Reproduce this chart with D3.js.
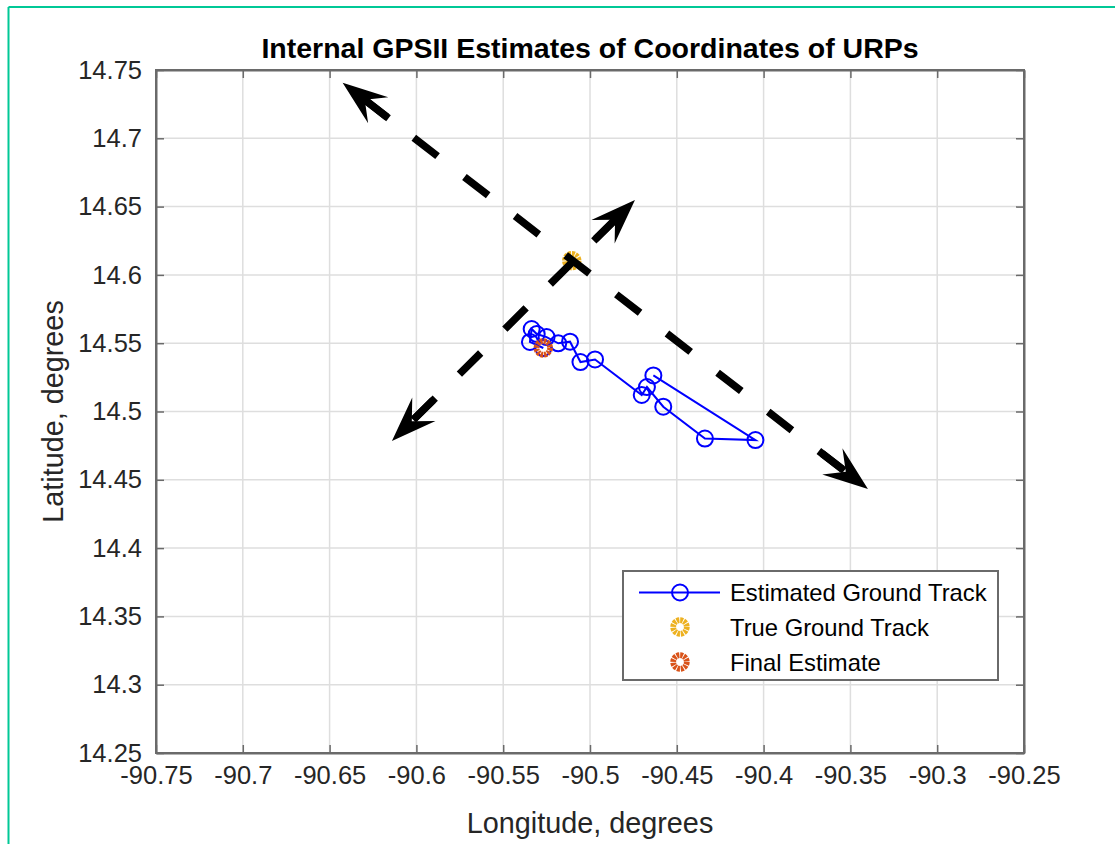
<!DOCTYPE html>
<html>
<head>
<meta charset="utf-8">
<script src="https://cdn.jsdelivr.net/npm/d3@7"></script>
<style>
  body { margin: 0; background: #fff; }
  svg { display: block; font-family: "Liberation Sans", Arial, sans-serif; }
</style>
</head>
<body>
<div id="chart"></div>
<script>
// estimated ground track (lon, lat), in plotting order
var trackLon = [-90.4635, -90.4047, -90.4338, -90.4578, -90.4672, -90.4702, -90.4971, -90.5055,
                -90.5115, -90.5183, -90.5250, -90.5307, -90.5336, -90.5346, -90.5269];
var trackLat = [14.5264, 14.4791, 14.4802, 14.5035, 14.5179, 14.5121, 14.5381, 14.5362,
                14.5511, 14.5499, 14.5545, 14.5567, 14.5604, 14.5509, 14.5465];

var trueLon = [-90.5105], trueLat = [14.6104];
var finalLon = [-90.5269], finalLat = [14.5465];

// double-headed dashed arrows: [lon1, lat1, lon2, lat2]
var arrowA = [-90.6425, 14.7407, -90.3399, 14.4433];
var arrowB = [-90.6141, 14.4784, -90.4741, 14.6548];

var xTicks = [-90.75, -90.7, -90.65, -90.6, -90.55, -90.5, -90.45, -90.4, -90.35, -90.3, -90.25];
var yTicks = [14.25, 14.3, 14.35, 14.4, 14.45, 14.5, 14.55, 14.6, 14.65, 14.7, 14.75];

var legendLabels = ["Estimated Ground Track", "True Ground Track", "Final Estimate"];

var W = 1115, H = 844;
var margin = { top: 70, right: 91, bottom: 91, left: 156 },
  width = W - margin.left - margin.right,
  height = H - margin.top - margin.bottom;

var svg = d3.select("#chart").append("svg")
  .attr("width", W)
  .attr("height", H);

// green frame (top and left edges)
svg.append("line").attr("x1", 8.5).attr("x2", W).attr("y1", 7).attr("y2", 7)
  .attr("stroke", "#00c896").attr("stroke-width", 2);
svg.append("line").attr("x1", 8.5).attr("x2", 8.5).attr("y1", 7).attr("y2", H)
  .attr("stroke", "#00c896").attr("stroke-width", 2);

var g = svg.append("g")
  .attr("transform", "translate(" + margin.left + "," + margin.top + ")");

var x = d3.scaleLinear().domain([-90.75, -90.25]).range([0, width]);
var y = d3.scaleLinear().domain([14.25, 14.75]).range([height, 0]);

// grid
g.append("g").selectAll("line").data(xTicks).join("line")
  .attr("x1", function(d) { return x(d); }).attr("x2", function(d) { return x(d); })
  .attr("y1", 0).attr("y2", height)
  .attr("stroke", "#dedede").attr("stroke-width", 1.5);
g.append("g").selectAll("line").data(yTicks).join("line")
  .attr("y1", function(d) { return y(d); }).attr("y2", function(d) { return y(d); })
  .attr("x1", 0).attr("x2", width)
  .attr("stroke", "#dedede").attr("stroke-width", 1.5);

// axes (ticks pointing inward, on all four sides)
var fmt = function(d) { return String(+d.toFixed(2)); };
var axStyle = function(sel) {
  sel.select(".domain").attr("stroke", "#6a6a6a").attr("stroke-width", 2);
  sel.selectAll(".tick line").attr("stroke", "#6a6a6a").attr("stroke-width", 1.5);
  sel.selectAll("text").attr("fill", "#262626").style("font-size", "25.5px")
    .attr("font-family", "Liberation Sans, Arial, sans-serif");
};
g.append("g").attr("transform", "translate(0," + height + ")")
  .call(d3.axisBottom(x).tickValues(xTicks).tickFormat(fmt).tickSizeInner(-8).tickSizeOuter(0).tickPadding(13))
  .call(axStyle);
g.append("g")
  .call(d3.axisLeft(y).tickValues(yTicks).tickFormat(fmt).tickSizeInner(-8).tickSizeOuter(0).tickPadding(14))
  .call(axStyle);
g.append("g")
  .call(d3.axisTop(x).tickValues(xTicks).tickFormat("").tickSizeInner(-8).tickSizeOuter(0))
  .call(axStyle);
g.append("g").attr("transform", "translate(" + width + ",0)")
  .call(d3.axisRight(y).tickValues(yTicks).tickFormat("").tickSizeInner(-8).tickSizeOuter(0))
  .call(axStyle);

// estimated track
var track = trackLon.map(function(d, i) { return [d, trackLat[i]]; });
g.append("path")
  .attr("d", d3.line().x(function(d) { return x(d[0]); }).y(function(d) { return y(d[1]); })(track))
  .attr("fill", "none").attr("stroke", "#0000ff").attr("stroke-width", 2);
g.append("g").selectAll("circle").data(track).join("circle")
  .attr("cx", function(d) { return x(d[0]); })
  .attr("cy", function(d) { return y(d[1]); })
  .attr("r", 8).attr("fill", "none").attr("stroke", "#0000ff").attr("stroke-width", 2);

// sun-like marker: notched thick ring
function gearMarker(sel, cx, cy, color) {
  sel.append("circle").attr("cx", cx).attr("cy", cy).attr("r", 6.8)
    .attr("fill", "none").attr("stroke", color).attr("stroke-width", 5.8)
    .attr("stroke-dasharray", "2.7,0.86");
}
gearMarker(g, x(trueLon[0]), y(trueLat[0]), "#edb120");

// arrows
function drawArrow(a, offset) {
  var x1 = x(a[0]), y1 = y(a[1]), x2 = x(a[2]), y2 = y(a[3]);
  g.append("line").attr("x1", x1).attr("y1", y1).attr("x2", x2).attr("y2", y2)
    .attr("stroke", "#000").attr("stroke-width", 7.5)
    .attr("stroke-dasharray", "30,34").attr("stroke-dashoffset", offset);
  var ang = Math.atan2(y2 - y1, x2 - x1) * 180 / Math.PI;
  var head = "M0,0 L-45,-16.5 L-28,0 L-45,16.5 Z";
  g.append("path").attr("d", head).attr("fill", "#000")
    .attr("transform", "translate(" + x2 + "," + y2 + ") rotate(" + ang + ")");
  g.append("path").attr("d", head).attr("fill", "#000")
    .attr("transform", "translate(" + x1 + "," + y1 + ") rotate(" + (ang + 180) + ")");
  // short solid stubs behind the heads
  [[x1, y1, ang + 180], [x2, y2, ang]].forEach(function(p) {
    g.append("line").attr("x1", -58).attr("x2", -30).attr("y1", 0).attr("y2", 0)
      .attr("stroke", "#000").attr("stroke-width", 7.5)
      .attr("transform", "translate(" + p[0] + "," + p[1] + ") rotate(" + p[2] + ")");
  });
}
drawArrow(arrowA, 38);
drawArrow(arrowB, 33);

gearMarker(g, x(finalLon[0]), y(finalLat[0]), "#d95319");

// box re-drawn on top
g.append("rect").attr("width", width).attr("height", height)
  .attr("fill", "none").attr("stroke", "#6a6a6a").attr("stroke-width", 2);

// title and labels
svg.append("text").attr("x", margin.left + width / 2).attr("y", 58)
  .attr("text-anchor", "middle").style("font-size", "28.5px").style("font-weight", "bold")
  .attr("fill", "#000").text("Internal GPSII Estimates of Coordinates of URPs");
svg.append("text").attr("x", margin.left + width / 2).attr("y", 833)
  .attr("text-anchor", "middle").style("font-size", "28.8px").attr("fill", "#262626")
  .text("Longitude, degrees");
svg.append("text").attr("transform", "translate(63," + (margin.top + height / 2) + ") rotate(-90)")
  .attr("text-anchor", "middle").style("font-size", "28.8px").attr("fill", "#262626")
  .text("Latitude, degrees");

// legend
var lg = svg.append("g").attr("transform", "translate(623,571)");
lg.append("rect").attr("width", 375).attr("height", 109)
  .attr("fill", "#fff").attr("stroke", "#6a6a6a").attr("stroke-width", 2);
var rows = [21.5, 56, 91];
lg.append("line").attr("x1", 16).attr("x2", 97).attr("y1", rows[0]).attr("y2", rows[0])
  .attr("stroke", "#0000ff").attr("stroke-width", 2);
lg.append("circle").attr("cx", 57).attr("cy", rows[0]).attr("r", 8)
  .attr("fill", "none").attr("stroke", "#0000ff").attr("stroke-width", 2);
gearMarker(lg, 57, rows[1], "#edb120");
gearMarker(lg, 57, rows[2], "#d95319");
lg.selectAll("text.lab").data(legendLabels).join("text")
  .attr("class", "lab")
  .attr("x", 107).attr("y", function(d, i) { return rows[i] + 8.5; })
  .style("font-size", "23.8px").attr("fill", "#000")
  .text(function(d) { return d; });
</script>
</body>
</html>
